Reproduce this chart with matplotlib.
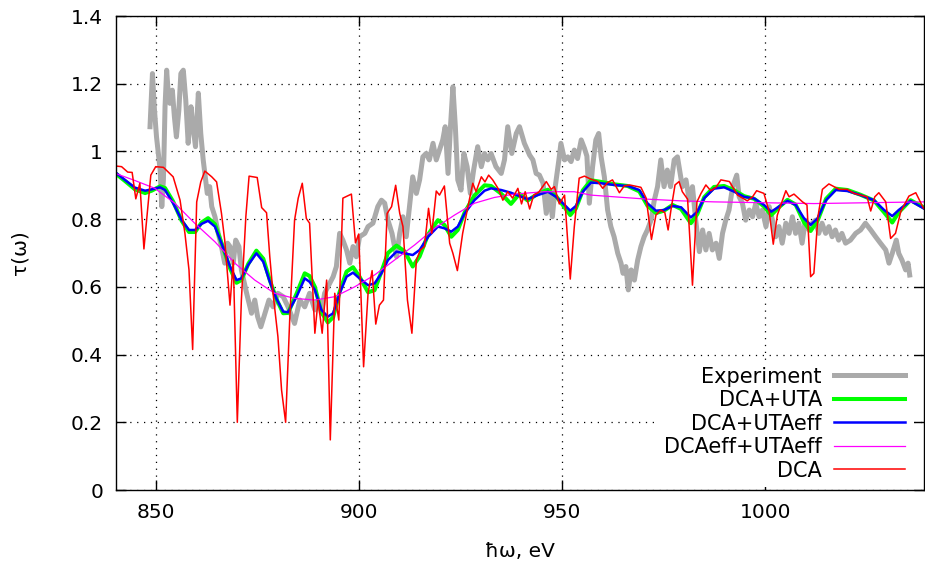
import matplotlib
matplotlib.use("Agg")
import matplotlib.pyplot as plt

# ---------------- data ----------------
exp_x = [848.5, 849.1, 849.6, 850.1, 851.0, 851.4, 851.8, 852.2, 852.6, 853.0, 853.4, 854.0, 854.5, 855.0,
         855.6, 856.1, 856.7, 857.3, 857.9, 858.6, 859.1, 859.7, 860.4, 861.0, 861.6, 862.0, 862.6, 863.2,
         863.7, 864.5, 865.3, 866.1, 866.9, 867.6, 868.2, 869.0, 869.6, 870.4, 871.0, 872.3, 873.5, 874.3,
         875.0, 875.8, 876.8, 877.8, 878.8, 880.0, 881.3, 882.5, 884.1, 885.4, 886.6, 887.8, 889.1, 889.9,
         890.7, 891.5, 892.3, 893.6, 894.4, 895.2, 896.0, 896.9, 897.7, 898.5, 899.3, 900.1, 901.4, 902.2,
         903.4, 904.6, 905.5, 906.3, 907.1, 908.1, 909.2, 910.0, 910.8, 911.6, 912.4, 913.2, 914.1, 914.9,
         915.7, 916.5, 917.3, 918.2, 919.0, 919.8, 920.6, 921.2, 921.9, 922.5, 923.1, 923.7, 924.3, 925.1,
         925.8, 926.6, 927.4, 928.2, 929.2, 930.1, 930.9, 931.7, 932.5, 933.7, 935.0, 935.8, 936.6, 937.6,
         938.7, 939.5, 940.7, 942.0, 942.8, 943.6, 944.4, 945.3, 946.1, 946.8, 947.6, 948.3, 949.2, 949.7,
         950.6, 951.4, 952.2, 953.0, 953.8, 954.7, 955.5, 956.1, 956.7, 957.5, 958.3, 959.0, 959.6, 960.4,
         961.2, 962.0, 962.8, 963.7, 964.5, 965.0, 965.7, 966.3, 967.0, 967.8, 968.6, 969.4, 970.2, 971.0,
         971.9, 972.7, 973.5, 974.3, 975.1, 975.9, 976.7, 977.6, 978.4, 979.6, 980.5, 981.3, 982.1, 982.9,
         983.8, 984.6, 985.4, 986.2, 987.0, 987.9, 988.7, 989.5, 990.3, 991.1, 992.0, 993.0, 993.6, 994.4,
         995.2, 996.1, 996.9, 997.7, 998.5, 999.3, 1000.2, 1001.0, 1001.8, 1002.6, 1003.4, 1004.2, 1005.1,
         1005.9, 1006.7, 1007.5, 1008.3, 1009.1, 1009.9, 1010.8, 1011.6, 1012.4, 1013.2, 1014.0, 1014.9,
         1015.7, 1016.5, 1017.3, 1018.1, 1018.9, 1019.8, 1021.0, 1022.3, 1023.5, 1024.7, 1026.0, 1027.2,
         1028.4, 1029.7, 1030.5, 1031.3, 1032.3, 1032.9, 1033.7, 1034.6, 1035.2, 1035.6]
exp_y = [1.073, 1.23, 1.122, 1.043, 0.945, 0.837, 0.916, 1.132, 1.24, 1.172, 1.142, 1.181, 1.103, 1.043,
         1.122, 1.23, 1.24, 1.152, 1.024, 1.132, 1.073, 1.014, 1.172, 1.053, 0.975, 0.935, 0.876, 0.896,
         0.837, 0.807, 0.758, 0.719, 0.67, 0.729, 0.719, 0.67, 0.738, 0.719, 0.65, 0.581, 0.522, 0.561,
         0.512, 0.482, 0.522, 0.561, 0.541, 0.581, 0.571, 0.541, 0.492, 0.561, 0.541, 0.581, 0.532, 0.561,
         0.522, 0.581, 0.6, 0.63, 0.66, 0.758, 0.738, 0.709, 0.67, 0.719, 0.689, 0.748, 0.758, 0.778,
         0.788, 0.837, 0.856, 0.847, 0.797, 0.758, 0.689, 0.758, 0.807, 0.748, 0.837, 0.925, 0.876, 0.916,
         0.984, 0.994, 0.975, 1.024, 0.975, 1.004, 1.034, 1.073, 0.935, 1.073, 1.191, 1.073, 0.916, 0.886,
         0.994, 0.955, 0.876, 0.945, 1.014, 0.955, 0.994, 0.975, 0.994, 0.955, 0.935, 0.975, 1.073, 0.994,
         1.053, 1.073, 1.024, 0.989, 0.975, 0.935, 0.93, 0.906, 0.817, 0.876, 0.807, 0.896, 0.975, 1.024,
         0.975, 0.984, 0.97, 1.004, 0.979, 1.034, 1.009, 0.986, 0.847, 0.955, 1.034, 1.053, 0.984, 0.925,
         0.827, 0.778, 0.748, 0.699, 0.67, 0.64, 0.66, 0.591, 0.65, 0.62, 0.679, 0.719, 0.748, 0.768,
         0.797, 0.856, 0.896, 0.975, 0.896, 0.945, 0.896, 0.975, 0.984, 0.896, 0.916, 0.856, 0.896, 0.797,
         0.704, 0.768, 0.709, 0.758, 0.709, 0.729, 0.684, 0.758, 0.797, 0.827, 0.896, 0.93, 0.866, 0.847,
         0.797, 0.827, 0.807, 0.847, 0.807, 0.827, 0.778, 0.837, 0.797, 0.748, 0.778, 0.729, 0.788,
         0.758, 0.807, 0.758, 0.788, 0.729, 0.797, 0.768, 0.788, 0.797, 0.758, 0.788, 0.758,
         0.778, 0.748, 0.768, 0.738, 0.758, 0.729, 0.738, 0.758, 0.768, 0.788, 0.768, 0.748,
         0.729, 0.709, 0.67, 0.699, 0.738, 0.699, 0.679, 0.65, 0.67, 0.635]

smooth_x = [840.0, 842.3, 844.8, 847.3, 848.9, 851.0, 852.2, 854.2, 856.3, 858.1, 859.6, 861.2, 862.8, 864.5,
            866.1, 868.2, 869.8, 871.0, 872.7, 874.7, 876.4, 878.0, 879.6, 881.3, 882.5, 884.6, 886.6, 887.8,
            889.1, 890.7, 892.3, 893.6, 895.2, 896.9, 898.5, 900.1, 902.2, 903.8, 905.5, 907.1, 909.2, 911.2,
            913.2, 914.9, 917.0, 919.4, 921.0, 922.7, 924.3, 926.0, 928.4, 930.9, 932.5, 935.0, 937.4, 939.5,
            941.5, 944.0, 946.5, 948.5, 950.6, 952.0, 953.4, 955.1, 957.1, 959.6, 962.8, 966.1, 969.0, 971.0,
            973.1, 975.1, 977.2, 979.3, 981.7, 983.3, 985.0, 987.4, 989.9, 992.4, 994.8, 997.3, 999.7, 1001.5,
            1003.4, 1005.5, 1007.5, 1009.6, 1011.2, 1012.9, 1015.0, 1017.4, 1020.3, 1023.5, 1026.8, 1029.3,
            1031.3, 1032.9, 1035.8, 1039.0]
dca_uta = [0.935, 0.913, 0.888, 0.877, 0.884, 0.897, 0.892, 0.852, 0.795, 0.762, 0.762, 0.79, 0.803, 0.785,
           0.73, 0.655, 0.612, 0.62, 0.668, 0.707, 0.683, 0.62, 0.565, 0.522, 0.523, 0.58, 0.64, 0.632,
           0.6, 0.525, 0.495, 0.51, 0.585, 0.645, 0.658, 0.63, 0.584, 0.59, 0.645, 0.7, 0.722, 0.705,
           0.66, 0.69, 0.755, 0.797, 0.783, 0.748, 0.768, 0.82, 0.87, 0.9, 0.898, 0.875, 0.845, 0.875,
           0.855, 0.875, 0.887, 0.868, 0.835, 0.812, 0.832, 0.885, 0.915, 0.91, 0.903, 0.898, 0.882, 0.84,
           0.818, 0.825, 0.842, 0.83, 0.788, 0.815, 0.865, 0.895, 0.898, 0.885, 0.868, 0.86, 0.838, 0.812,
           0.835, 0.857, 0.843, 0.79, 0.765, 0.795, 0.86, 0.89, 0.886, 0.872, 0.855, 0.82,
           0.79, 0.82, 0.856, 0.835]
dca_utaeff = [0.938, 0.916, 0.893, 0.884, 0.888, 0.894, 0.886, 0.847, 0.797, 0.768, 0.768, 0.786, 0.795, 0.778,
              0.729, 0.66, 0.62, 0.625, 0.665, 0.699, 0.674, 0.615, 0.566, 0.527, 0.525, 0.571, 0.625, 0.615,
              0.591, 0.532, 0.512, 0.522, 0.581, 0.63, 0.642, 0.625, 0.605, 0.61, 0.64, 0.679, 0.704, 0.699,
              0.694, 0.709, 0.748, 0.778, 0.773, 0.763, 0.778, 0.817, 0.856, 0.884, 0.891, 0.886, 0.878, 0.868,
              0.859, 0.871, 0.881, 0.866, 0.842, 0.825, 0.839, 0.881, 0.908, 0.906, 0.901, 0.898, 0.886, 0.847,
              0.825, 0.827, 0.839, 0.835, 0.805, 0.822, 0.862, 0.89, 0.894, 0.881, 0.866, 0.861, 0.842, 0.822,
              0.837, 0.854, 0.842, 0.802, 0.783, 0.802, 0.856, 0.886, 0.883, 0.871, 0.856, 0.827,
              0.809, 0.827, 0.854, 0.832]

eff_x = [840.0, 844.8, 849.7, 854.6, 859.5, 864.5, 869.4, 874.3, 879.2, 884.1, 889.1, 894.0, 898.9, 903.8,
         908.7, 913.7, 918.6, 923.5, 928.4, 933.3, 938.2, 945.6, 953.0, 957.1, 962.8, 971.0, 979.3, 987.4,
         1012.0, 1039.0]
dcaeff_utaeff = [0.935, 0.914, 0.891, 0.847, 0.788, 0.733, 0.67, 0.62, 0.581, 0.566, 0.561, 0.571, 0.6, 0.635,
                 0.679, 0.724, 0.773, 0.812, 0.847, 0.864, 0.874, 0.881, 0.881, 0.871, 0.866, 0.859, 0.854, 0.851,
                 0.846, 0.851]

dca_x = [840.0, 841.5, 843.0, 844.1, 845.0, 846.0, 847.0, 848.7, 849.9, 851.8, 854.2, 855.9, 857.1, 858.1,
         859.0, 860.0, 861.0, 862.0, 863.7, 864.9, 866.1, 866.9, 868.2, 869.0, 870.0, 871.0, 872.1, 872.9,
         874.9, 876.0, 877.2, 878.0, 878.8, 880.0, 880.9, 881.9, 882.9, 884.1, 885.0, 886.0, 887.0, 887.8,
         889.1, 889.9, 890.9, 892.0, 892.9, 894.0, 895.0, 896.0, 898.1, 899.1, 899.9, 901.1, 902.2, 903.2,
         904.1, 905.0, 906.0, 906.9, 908.0, 909.0, 910.0, 910.8, 911.9, 913.0, 914.1, 915.1, 916.1, 917.1,
         917.9, 919.0, 919.8, 921.0, 922.3, 923.1, 924.2, 925.5, 926.8, 928.0, 928.8, 930.1, 931.0, 931.9,
         932.9, 934.2, 935.4, 936.6, 937.8, 939.1, 940.0, 940.9, 942.0, 943.0, 944.2, 946.1, 947.3, 948.1,
         949.3, 950.6, 952.0, 953.0, 954.2, 955.5, 957.1, 958.8, 960.0, 961.2, 962.4, 964.1, 965.3, 966.6,
         967.8, 969.4, 970.7, 972.0, 973.1, 974.3, 975.3, 976.1, 976.8, 977.8, 978.8, 979.6, 980.9, 982.1,
         983.2, 984.2, 985.4, 986.6, 987.9, 989.1, 991.2, 993.2, 995.6, 996.9, 997.9, 999.7, 1001.0, 1002.0,
         1003.0, 1005.1, 1005.9, 1007.1, 1009.2, 1010.3, 1011.2, 1012.0, 1013.0, 1014.1, 1015.7, 1018.2,
         1020.2, 1021.9, 1023.5, 1025.1, 1026.0, 1027.0, 1028.0, 1029.7, 1030.9, 1032.1, 1033.4, 1035.4,
         1037.1, 1039.0]
dca = [0.957, 0.955, 0.939, 0.938, 0.86, 0.906, 0.712, 0.93, 0.955, 0.953, 0.925, 0.856, 0.758, 0.65,
       0.415, 0.851, 0.91, 0.942, 0.925, 0.91, 0.817, 0.738, 0.546, 0.679, 0.2, 0.561, 0.807, 0.927,
       0.923, 0.834, 0.819, 0.689, 0.581, 0.453, 0.295, 0.2, 0.502, 0.797, 0.862, 0.906, 0.802, 0.788,
       0.463, 0.561, 0.463, 0.62, 0.148, 0.581, 0.502, 0.862, 0.874, 0.73, 0.756, 0.364, 0.581, 0.648,
       0.49, 0.546, 0.561, 0.817, 0.837, 0.9, 0.817, 0.778, 0.561, 0.463, 0.679, 0.709, 0.719, 0.832,
       0.758, 0.883, 0.871, 0.898, 0.729, 0.699, 0.648, 0.758, 0.837, 0.906, 0.881, 0.925, 0.91, 0.93,
       0.916, 0.891, 0.856, 0.881, 0.862, 0.891, 0.845, 0.881, 0.83, 0.871, 0.879, 0.911, 0.888, 0.896,
       0.845, 0.871, 0.623, 0.778, 0.921, 0.927, 0.918, 0.911, 0.891, 0.908, 0.916, 0.878, 0.898, 0.901,
       0.898, 0.894, 0.862, 0.74, 0.812, 0.827, 0.819, 0.768, 0.827, 0.901, 0.911, 0.881, 0.859, 0.605,
       0.851, 0.876, 0.901, 0.884, 0.894, 0.916, 0.911, 0.871, 0.854, 0.866, 0.884, 0.876, 0.822, 0.726,
       0.812, 0.884, 0.866, 0.874, 0.851, 0.842, 0.63, 0.64, 0.807, 0.888, 0.904, 0.888,
       0.888, 0.876, 0.871, 0.866, 0.824, 0.866, 0.878, 0.851, 0.743, 0.758, 0.822, 0.868,
       0.878, 0.832]

x_ticks = [850, 900, 950, 1000]
y_ticks = [0, 0.2, 0.4, 0.6, 0.8, 1.0, 1.2, 1.4]
y_tick_labels = ["0", "0.2", "0.4", "0.6", "0.8", "1", "1.2", "1.4"]

# ---------------- plot ----------------
plt.rcParams['font.family'] = ['DejaVu Sans']
FS = 14.5
fig = plt.figure(figsize=(9.25, 5.64), dpi=100)
ax = fig.add_axes([115.5 / 925, 74 / 564, (923.5 - 115.5) / 925, (490 - 16) / 564])

ax.plot(exp_x, exp_y, color='#aaaaaa', lw=3.6, label='Experiment')
ax.plot(smooth_x, dca_uta, color='#00ff00', lw=2.9, label='DCA+UTA')
ax.plot(smooth_x, dca_utaeff, color='#0000ff', lw=1.8, label='DCA+UTAeff')
ax.plot(eff_x, dcaeff_utaeff, color='#ff00ff', lw=0.9, label='DCAeff+UTAeff')
ax.plot(dca_x, dca, color='#ff0000', lw=1.1, label='DCA')

ax.set_xlim(840, 1039)
ax.set_ylim(0, 1.4)
ax.set_xticks(x_ticks)
ax.set_yticks(y_ticks)
ax.set_yticklabels(y_tick_labels)
ax.tick_params(direction='in', length=7, width=1, top=True, right=True, labelsize=FS, pad=9)
ax.grid(True, color='black', linestyle=(0, (1, 4.5)), linewidth=0.9)
for s in ax.spines.values():
    s.set_linewidth(1.0)

ax.set_xlabel('ħω, eV', fontsize=FS, labelpad=15)
ax.set_ylabel('τ(ω)', fontsize=FS, labelpad=30)

leg = ax.legend(loc='lower right', bbox_to_anchor=(1 - 12 / 808, 3 / 474), frameon=True,
                fancybox=False, framealpha=1.0, facecolor='white', edgecolor='none',
                markerfirst=False, fontsize=15, handlelength=3.4, labelspacing=0.17,
                borderaxespad=0.0, borderpad=0.3, handletextpad=0.6)
leg.get_frame().set_linewidth(0)

fig.savefig('out.png', dpi=100)
